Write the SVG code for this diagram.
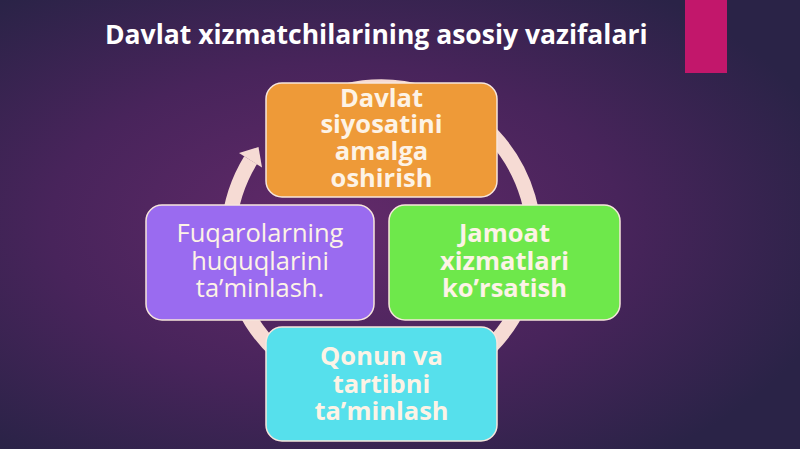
<svg xmlns="http://www.w3.org/2000/svg" width="800" height="449" viewBox="0 0 800 449">
  <defs>
    <radialGradient id="bg" cx="0.42" cy="0.5" r="0.65">
      <stop offset="0" stop-color="#632a6a"/>
      <stop offset="0.55" stop-color="#48245b"/>
      <stop offset="1" stop-color="#2a2347"/>
    </radialGradient>
    <style>
      .box { stroke: #f7e6dc; stroke-width: 1.5; }
      .t { font-family: "Open Sans", "Noto Sans", "DejaVu Sans", sans-serif; font-size: 25.5px; fill: #fdf3e6; text-anchor: middle; }
      .b { font-weight: bold; }
      .title { font-family: "Open Sans", "Noto Sans", "DejaVu Sans", sans-serif; font-size: 26.5px; font-weight: bold; fill: #ffffff; }
    </style>
  </defs>
  <rect width="800" height="449" fill="url(#bg)"/>
  <rect x="685" y="0" width="42" height="73" fill="#c2176b"/>
  <text class="title" x="105" y="44">Davlat xizmatchilarining asosiy vazifalari</text>

  <g id="connectors">
    <path d="M282.7,122.8 A153,153 0 1 1 250.6,160.1" fill="none" stroke="#f6dbd4" stroke-width="15"/>
    <polygon points="239,153 258.5,147 262,167.5" fill="#f6dbd4"/>
  </g>

  <g id="node-top">
    <rect class="box" x="266" y="83" width="231" height="114" rx="16" fill="#ee9a38"/>
    <text class="t b" x="381.5" y="107">Davlat</text>
    <text class="t b" x="381.5" y="133">siyosatini</text>
    <text class="t b" x="381.5" y="160">amalga</text>
    <text class="t b" x="381.5" y="187">oshirish</text>
  </g>

  <g id="node-left">
    <rect class="box" x="146" y="205" width="228" height="115" rx="16" fill="#9a6bf0"/>
    <text class="t" x="260" y="242">Fuqarolarning</text>
    <text class="t" x="260" y="270">huquqlarini</text>
    <text class="t" x="260" y="297">ta’minlash.</text>
  </g>

  <g id="node-right">
    <rect class="box" x="389" y="205" width="231" height="115" rx="16" fill="#6ee84b"/>
    <text class="t b" x="504.5" y="242">Jamoat</text>
    <text class="t b" x="504.5" y="270">xizmatlari</text>
    <text class="t b" x="504.5" y="297">ko’rsatish</text>
  </g>

  <g id="node-bottom">
    <rect class="box" x="266" y="327" width="231" height="114" rx="16" fill="#56e0ec"/>
    <text class="t b" x="381.5" y="365">Qonun va</text>
    <text class="t b" x="381.5" y="393">tartibni</text>
    <text class="t b" x="381.5" y="420">ta’minlash</text>
  </g>
</svg>
